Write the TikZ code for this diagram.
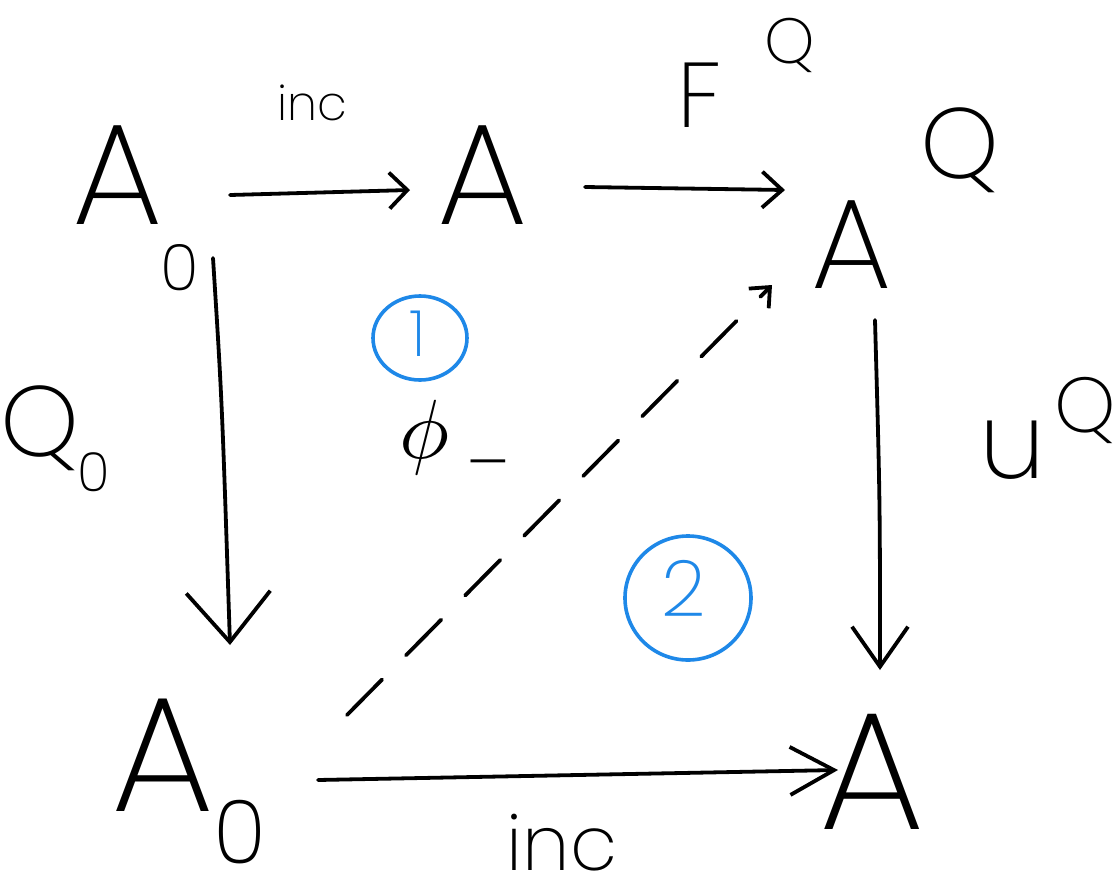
\documentclass[tikz,border=0pt]{standalone}
\usepackage{fontspec}
\IfFontExistsTF{Poppins ExtraLight}
  {\newfontfamily\hand{Poppins ExtraLight}}
  {\IfFontExistsTF{Poppins Light}
    {\newfontfamily\hand{Poppins Light}}
    {\newfontfamily\hand{lmmonolt10-regular}[Extension=.otf]}}
\usetikzlibrary{arrows.meta,calc}
\definecolor{handblue}{RGB}{30,136,232}
\begin{document}
\begin{tikzpicture}[x=0.5pt,y=-0.5pt,
  lbl/.style={inner sep=0pt,text=black},
  arr/.style={line width=1.9pt,line cap=round,line join=round},
  blue circ/.style={draw=handblue,line width=1.8pt},
  fs/.style={font={\hand\fontsize{#1}{#1}\selectfont}}]
\fill[white] (0,0) rectangle (1116,895);
\useasboundingbox (0,0) rectangle (1116,895);
% objects
\node[lbl,fs=72] (A0tl) at (118,175) {A};
\node[lbl,fs=32] (A0tlsub) at (180,268) {0};
\node[lbl,fs=72] (Atm) at (483,175) {A};
\node[lbl,fs=64] (Atr) at (852,245) {A};
\node[lbl,fs=50] (Atrsup) at (960,150) {Q};
\node[lbl,fs=82] (A0bl) at (163,755) {A};
\node[lbl,fs=44] (A0blsub) at (240,832) {0};
\node[lbl,fs=84] (Abr) at (872,772) {A};
% labels
\node[lbl,fs=24] (inctop) at (312,103) {inc};
\node[lbl,fs=46] (F) at (700,95) {F};
\node[lbl,fs=32] (Fsup) at (790,45) {Q};
\node[lbl,fs=50] (Q0) at (40,428) {Q};
\node[lbl,fs=27] (Q0sub) at (94,472) {0};
\node[lbl,fs=53] (u) at (1013,450) {u};
\node[lbl,fs=39] (usup) at (1085,410) {Q};
\node[lbl,fs=38] (incbot) at (562,843) {inc};
\node[lbl] (phi) at (425,437) {\scalebox{4.2}{$\phi$}};
\node[lbl,fs=36] (phisub) at (488,460) {\_};
% circled numbers
\draw[blue circ] (420,338) ellipse [x radius=47,y radius=42];
\node[lbl,fs=32,text=handblue] (one) at (418,334) {1};
\draw[blue circ] (688,598) ellipse [x radius=63,y radius=62];
\node[lbl,fs=39,text=handblue] (two) at (684,588) {2};
% connectors
\draw[arr,-{Straight Barb[length=9pt,width=18pt,line width=1.9pt]}]
  ($(A0tl.center)+(112,20)$) -- ($(Atm.center)+(-73,15)$);
\draw[arr,-{Straight Barb[length=10pt,width=18pt,line width=1.9pt]}]
  ($(Atm.center)+(102,12)$) -- ($(Atr.center)+(-67,-55)$);
\draw[arr,-{Straight Barb[length=25pt,width=42pt,line width=1.9pt]}]
  ($(A0tl.center)+(95,83)$) .. controls (222,400) .. ($(A0bl.center)+(67,-110)$);
\draw[arr,-{Straight Barb[length=20pt,width=28pt,line width=1.9pt]}]
  ($(Atr.center)+(23,75)$) .. controls (880,500) .. ($(Abr.center)+(8,-102)$);
\draw[arr,-{Straight Barb[length=22pt,width=24pt,line width=1.9pt]}]
  ($(A0bl.center)+(155,25)$) -- ($(Abr.center)+(-34,-2)$);
\draw[arr,dash pattern=on 25pt off 17pt,-{Straight Barb[length=8pt,width=14pt,line width=1.9pt]}]
  ($(A0bl.center)+(184,-40)$) -- ($(Atr.center)+(-80,40)$);
\end{tikzpicture}
\end{document}
